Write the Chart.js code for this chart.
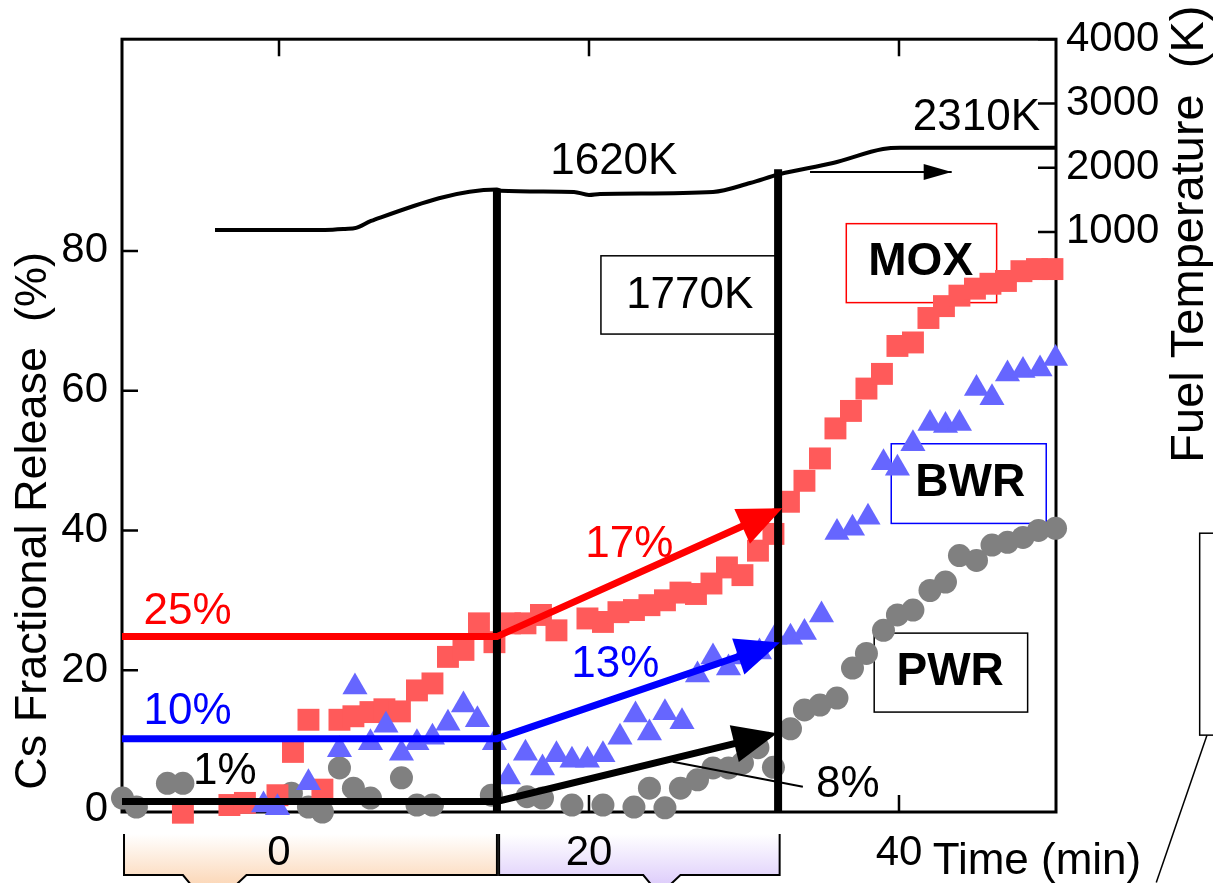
<!DOCTYPE html>
<html>
<head>
<meta charset="utf-8">
<script src="https://cdn.jsdelivr.net/npm/chart.js@4.4.1/dist/chart.umd.min.js"></script>
<style>
  body { margin: 0; background: #fff; }
  #wrap { width: 1213px; height: 883px; }
</style>
</head>
<body>
<div id="wrap"><canvas id="release" width="1213" height="883"></canvas></div>
<script>
  // fonts
  const FONT = "'Liberation Sans', Arial, Helvetica, sans-serif";

  // MOX (red squares): time (min) and Cs release (%)
  let moxTime = [-6.2, -3.2, -2.2, -0.1, 0.9, 1.9, 2.8, 3.9, 4.8, 5.9, 6.8, 7.8, 8.9, 9.9, 10.9, 11.9, 12.9, 13.9,
    14.9, 15.9, 16.9, 17.9, 19.9, 20.9, 21.9, 22.9, 23.9, 24.9, 25.9, 26.9, 27.9, 28.9, 29.9, 30.9, 31.9,
    32.9, 33.9, 34.9, 35.9, 36.9, 37.9, 38.9, 39.9, 40.9, 41.9, 42.9, 43.9, 44.9, 45.9, 46.9, 47.9, 48.9, 49.9];
  let moxRelease = [-0.4, 0.7, 1.0, 2.1, 8.3, 12.9, 2.9, 12.9, 13.4, 14.0, 14.4, 14.1, 17.1, 18.1, 21.9, 22.9, 26.7, 24.0,
    26.7, 26.7, 27.9, 25.7, 27.4, 26.9, 28.3, 28.6, 29.3, 30.0, 31.1, 30.9, 32.4, 34.7, 33.6, 37.1, 39.5,
    44.1, 47.1, 50.3, 54.6, 57.1, 60.3, 62.4, 66.4, 66.9, 70.4, 72.1, 73.6, 74.6, 75.3, 75.7, 77.1, 77.4, 77.4];

  // BWR (blue triangles)
  let bwrTime = [-1.0, -0.1, 1.9, 3.9, 4.9, 5.9, 6.9, 7.9, 8.9, 9.9, 10.9, 11.9, 12.8, 13.9,
    14.8, 15.9, 17.0, 17.9, 18.9, 19.9, 20.9, 22.0, 23.0, 23.9, 24.9, 26.0, 27.0, 28.0, 29.0, 29.9, 31.0, 32.0, 33.0,
    33.9, 35.0, 36.0, 37.0, 38.0, 39.0, 39.9, 40.9, 42.0, 43.0, 43.9, 45.0, 46.0, 47.0, 48.0, 49.1, 50.1];
  let bwrRelease = [0.7, 0.3, 3.9, 8.6, 17.6, 9.6, 12.1, 8.1, 9.6, 10.4, 12.4, 15.0, 12.9, 9.6,
    4.7, 8.1, 6.0, 7.9, 7.1, 7.1, 7.9, 10.4, 13.6, 11.0, 13.9, 12.6, 19.3, 21.9, 20.3, 21.9, 22.6, 24.7, 24.7,
    25.4, 27.9, 39.7, 40.3, 41.9, 49.7, 48.9, 52.4, 55.3, 55.0, 55.3, 60.3, 59.0, 62.4, 62.9, 63.1, 64.6];

  // PWR (grey circles)
  let pwrTime = [-10.1, -9.2, -7.2, -6.2, 0.8, 1.9, 2.8, 3.9, 4.8, 5.9, 7.9, 8.9, 9.9, 13.7,
    16.0, 17.0, 18.9, 20.9, 22.9, 23.9, 24.9, 25.9, 27.0, 28.0, 29.0, 29.9, 30.9, 31.9,
    33.0, 33.9, 34.9, 36.0, 37.0, 37.9, 39.0, 39.9, 40.9, 42.0, 43.0, 43.9, 45.0, 46.0, 47.0, 48.0, 49.0, 50.1];
  let pwrRelease = [1.7, 0.4, 3.8, 3.8, 2.4, 0.4, -0.3, 6.0, 3.1, 1.7, 4.6, 0.7, 0.7, 2.1,
    1.9, 1.7, 0.7, 0.7, 0.4, 3.1, 0.3, 3.1, 4.3, 6.0, 6.0, 6.7, 8.9, 6.1,
    11.6, 14.3, 15.0, 16.0, 20.3, 22.4, 25.7, 27.9, 28.6, 31.4, 32.6, 36.4, 35.7, 37.9, 38.3, 39.0, 40.0, 40.3];

  // fuel temperature (K)
  let tempTime = [-4.13, 2.97, 4.26, 4.97, 5.94, 14.06, 14.3, 19.03, 20.0, 20.71, 28.0, 30.39, 32.32, 35.74, 38.97, 40.06, 50.13];
  let tempK = [1031, 1031, 1046, 1062, 1171, 1660, 1640, 1622, 1575, 1591, 1622, 1761, 1901, 2072, 2290, 2310, 2310];

  // heating steps (min) and where the step line meets the temperature curve (%)
  let stepTime = [14.06, 32.2];
  let stepTop = [88.9, 91.7];

  // level before the step, then rise to the end of the next step
  let trendTime = [-10.13, 14.06];
  let moxTrend = [24.8, 24.8, 42.7];
  let bwrTrend = [10.2, 10.2, 23.6];
  let pwrTrend = [1.2, 1.2, 10.7];
  let trendEnd = [32.0, 31.83, 31.63];

  // axis ticks
  let timeTicks = [0, 20, 40];
  let releaseTicks = [0, 20, 40, 60, 80];
  let tempTicks = [1000, 2000, 3000, 4000];

  const pts = (xs, ys) => xs.map((x, i) => ({ x: x, y: ys[i] }));

  function trend(vals, end) {
    return [{ x: trendTime[0], y: vals[0] }, { x: trendTime[1], y: vals[1] }, { x: end, y: vals[2] }];
  }

  // text notes: time, release (%)
  let notes = [
    { text: '25%', t: -5.9, v: 28.4, color: '#ff0000' },
    { text: '10%', t: -5.9, v: 14.0, color: '#0000ff' },
    { text: '1%', t: -3.5, v: 5.4, color: '#000' },
    { text: '17%', t: 22.6, v: 37.9, color: '#ff0000' },
    { text: '13%', t: 21.7, v: 20.7, color: '#0000ff' },
    { text: '8%', t: 36.7, v: 3.6, color: '#000' },
    { text: '1620K', t: 21.6, v: 92.7, color: '#000' },
    { text: '2310K', t: 45.0, v: 99.0, color: '#000' },
    { text: '1770K', t: 26.5, v: 73.6, color: '#000' },
    { text: 'MOX', t: 41.4, v: 78.4, color: '#000', bold: true },
    { text: 'BWR', t: 44.6, v: 46.7, color: '#000', bold: true },
    { text: 'PWR', t: 43.3, v: 19.7, color: '#000', bold: true },
    { text: 'Time (min)', t: 48.9, v: -7.5, color: '#000' }
  ];

  let frames = [
    { t0: 20.77, t1: 32.2, v0: 79.3, v1: 68.1, color: '#000' },
    { t0: 36.6, t1: 46.3, v0: 83.9, v1: 72.6, color: '#ff0000' },
    { t0: 39.5, t1: 49.5, v0: 52.4, v1: 41.0, color: '#0000ff' },
    { t0: 38.4, t1: 48.3, v0: 25.3, v1: 14.0, color: '#000' },
    { t0: 59.4, t1: 64.0, v0: 39.6, v1: 10.7, color: '#000' }
  ];

  function tab(ctx, chart, t0, t1, p0, p1, color) {
    const x = chart.scales.x, b = chart.chartArea.bottom;
    const l = x.getPixelForValue(t0), r = x.getPixelForValue(t1);
    const a0 = x.getPixelForValue(p0), a1 = x.getPixelForValue(p1);
    const top = b + 22, bot = b + 63, end = b + 80;
    const g = ctx.createLinearGradient(0, top, 0, end);
    g.addColorStop(0, '#ffffff');
    g.addColorStop(1, color);
    ctx.beginPath();
    ctx.moveTo(l, top); ctx.lineTo(r, top); ctx.lineTo(r, bot);
    ctx.lineTo(a1, bot); ctx.lineTo(a1 - 18, end); ctx.lineTo(a0 + 14, end);
    ctx.lineTo(a0, bot); ctx.lineTo(l, bot); ctx.closePath();
    ctx.fillStyle = g; ctx.fill();
    ctx.beginPath();
    ctx.moveTo(l, top); ctx.lineTo(l, bot); ctx.lineTo(a0, bot); ctx.lineTo(a0 + 14, end);
    ctx.moveTo(a1 - 18, end); ctx.lineTo(a1, bot); ctx.lineTo(r, bot); ctx.lineTo(r, top);
    ctx.strokeStyle = '#000'; ctx.lineWidth = 2; ctx.stroke();
  }

  const decor = {
    id: 'decor',
    beforeDraw(chart) {
      const ctx = chart.ctx;
      ctx.save();
      tab(ctx, chart, -10.0, 14.06, -6.2, -2.1, '#fbd2ae');
      tab(ctx, chart, 14.2, 32.3, 23.5, 25.9, '#d9c6fa');
      ctx.restore();
    },
    beforeDatasetsDraw(chart) {
      const { ctx, chartArea: a, scales } = chart;
      ctx.save();
      ctx.strokeStyle = '#000';
      ctx.lineWidth = 3;
      ctx.strokeRect(a.left, a.top, a.right - a.left, a.bottom - a.top);
      ctx.lineWidth = 2.5;
      ctx.beginPath();
      scales.x.ticks.forEach(t => {
        const p = scales.x.getPixelForValue(t.value);
        ctx.moveTo(p, a.bottom); ctx.lineTo(p, a.bottom - 17);
        ctx.moveTo(p, a.top); ctx.lineTo(p, a.top + 17);
      });
      scales.y.ticks.forEach(t => {
        const p = scales.y.getPixelForValue(t.value);
        ctx.moveTo(a.left, p); ctx.lineTo(a.left + 16, p);
      });
      scales.yT.ticks.forEach(t => {
        const p = scales.yT.getPixelForValue(t.value);
        ctx.moveTo(a.right, p); ctx.lineTo(a.right - 18, p);
      });
      ctx.stroke();
      // label boxes
      ctx.lineWidth = 1.5;
      frames.forEach(f => {
        const x0 = scales.x.getPixelForValue(f.t0), x1 = scales.x.getPixelForValue(f.t1);
        const y0 = scales.y.getPixelForValue(f.v0), y1 = scales.y.getPixelForValue(f.v1);
        ctx.strokeStyle = f.color;
        ctx.strokeRect(x0, y0, x1 - x0, y1 - y0);
      });
      // lead line from the box at the right edge
      ctx.strokeStyle = '#000';
      ctx.beginPath();
      ctx.moveTo(scales.x.getPixelForValue(59.87), scales.y.getPixelForValue(10.7));
      ctx.lineTo(scales.x.getPixelForValue(56.6), scales.y.getPixelForValue(-10.4));
      ctx.stroke();
      ctx.restore();
    },
    afterDatasetsDraw(chart) {
      const ctx = chart.ctx;
      chart.data.datasets.forEach((ds, i) => {
        if (!ds.arrow) return;
        const pts = chart.getDatasetMeta(i).data;
        const p0 = pts[pts.length - 2], p1 = pts[pts.length - 1];
        const ang = Math.atan2(p1.y - p0.y, p1.x - p0.x);
        ctx.save();
        ctx.translate(p1.x, p1.y);
        ctx.rotate(ang);
        ctx.beginPath();
        ctx.moveTo(ds.arrow.ahead, 0);
        ctx.lineTo(ds.arrow.ahead - ds.arrow.len, -ds.arrow.half);
        ctx.lineTo(ds.arrow.ahead - ds.arrow.len, ds.arrow.half);
        ctx.closePath();
        ctx.fillStyle = ds.borderColor;
        ctx.fill();
        ctx.restore();
      });
    },
    afterDraw(chart) {
      const { ctx, scales, chartArea: a } = chart;
      ctx.save();
      ctx.textAlign = 'center';
      ctx.textBaseline = 'middle';
      notes.forEach(n => {
        ctx.font = (n.bold ? 'bold 46px ' : '44px ') + FONT;
        ctx.fillStyle = n.color;
        ctx.fillText(n.text, scales.x.getPixelForValue(n.t), scales.y.getPixelForValue(n.v));
      });
      ctx.fillStyle = '#000';
      ctx.textAlign = 'left';
      // axis titles, read bottom to top
      ctx.font = '45px ' + FONT;
      ctx.save();
      ctx.translate(a.left - 88, scales.y.getPixelForValue(2.9));
      ctx.rotate(-Math.PI / 2);
      ctx.fillText('Cs Fractional Release  (%)', 0, 0);
      ctx.restore();
      ctx.font = '47px ' + FONT;
      ctx.save();
      ctx.translate(a.right + 134, scales.y.getPixelForValue(49.7));
      ctx.rotate(-Math.PI / 2);
      ctx.fillText('Fuel Temperature  (K)', 0, 0);
      ctx.restore();
      ctx.restore();
    }
  };

  const lineStyle = { showLine: true, pointRadius: 0, pointHoverRadius: 0, tension: 0, fill: false };

  let datasets = [
    { label: 'PWR', data: pts(pwrTime, pwrRelease), pointStyle: 'circle', pointRadius: 11.5,
      backgroundColor: '#808080', borderColor: '#808080', borderWidth: 0, clip: false, order: 6 },
    { label: 'MOX', data: pts(moxTime, moxRelease), pointStyle: 'rect', pointRadius: 15.5,
      backgroundColor: '#ff5a5a', borderColor: '#ff5a5a', borderWidth: 0, clip: false, order: 5 },
    { label: 'BWR', data: pts(bwrTime, bwrRelease), pointStyle: 'triangle', pointRadius: 14.5,
      backgroundColor: '#6666ff', borderColor: '#6666ff', borderWidth: 0, clip: false, order: 4 },
    Object.assign({ label: 'Fuel temperature', data: pts(tempTime, tempK), yAxisID: 'yT',
      borderColor: '#000', borderWidth: 4, cubicInterpolationMode: 'monotone', order: 3 }, lineStyle, { tension: 0.4 }),
    Object.assign({ label: 'step 1', data: [{ x: stepTime[0], y: -0.3 }, { x: stepTime[0], y: stepTop[0] }],
      borderColor: '#000', borderWidth: 8, order: 2 }, lineStyle),
    Object.assign({ label: 'step 2', data: [{ x: stepTime[1], y: -0.3 }, { x: stepTime[1], y: stepTop[1] }],
      borderColor: '#000', borderWidth: 8, order: 2 }, lineStyle),
    Object.assign({ label: 'MOX trend', data: trend(moxTrend, trendEnd[0]), borderColor: '#ff0000', borderWidth: 7,
      order: 1, arrow: { len: 44, half: 19, ahead: 8 } }, lineStyle),
    Object.assign({ label: 'BWR trend', data: trend(bwrTrend, trendEnd[1]), borderColor: '#0000ff', borderWidth: 7,
      order: 1, arrow: { len: 44, half: 19, ahead: 8 } }, lineStyle),
    Object.assign({ label: 'PWR trend', data: trend(pwrTrend, trendEnd[2]), borderColor: '#000', borderWidth: 7,
      order: 1, arrow: { len: 44, half: 19, ahead: 8 } }, lineStyle),
    Object.assign({ label: '8% lead', data: [{ x: 25.4, y: 6.9 }, { x: 33.8, y: 3.3 }], borderColor: '#000',
      borderWidth: 2, order: 1 }, lineStyle),
    Object.assign({ label: 'temp arrow', data: [{ x: 34.26, y: 1933 }, { x: 43.4, y: 1933 }], yAxisID: 'yT',
      borderColor: '#000', borderWidth: 2, order: 1, arrow: { len: 28, half: 8, ahead: 0 } }, lineStyle)
  ];

  function fixTicks(list) {
    return scale => { scale.ticks = list.map(v => ({ value: v })); };
  }

  const tickFont = { family: FONT, size: 42 };
  const plain = v => String(v);

  new Chart(document.getElementById('release'), {
    type: 'scatter',
    data: { datasets: datasets },
    plugins: [decor],
    options: {
      responsive: false,
      animation: false,
      events: [],
      layout: { padding: 0 },
      plugins: { legend: { display: false }, tooltip: { enabled: false } },
      scales: {
        x: {
          type: 'linear', position: 'bottom', min: -10.13, max: 50.13,
          afterBuildTicks: fixTicks(timeTicks),
          afterFit: s => { s.height = 71; },
          grid: { display: false, drawTicks: false }, border: { display: false },
          ticks: { font: tickFont, color: '#000', padding: 16, maxRotation: 0, autoSkip: false, callback: plain }
        },
        xTop: {
          type: 'linear', position: 'top', min: -10.13, max: 50.13,
          afterBuildTicks: fixTicks(timeTicks),
          afterFit: s => { s.height = 38; },
          grid: { display: false, drawTicks: false }, border: { display: false },
          ticks: { display: false }
        },
        y: {
          type: 'linear', position: 'left', min: -0.3, max: 110.3,
          afterBuildTicks: fixTicks(releaseTicks),
          afterFit: s => { s.width = 122; },
          grid: { display: false, drawTicks: false }, border: { display: false },
          ticks: { font: tickFont, color: '#000', padding: 14, callback: plain }
        },
        yT: {
          type: 'linear', position: 'right', min: -8031, max: 4000,
          afterBuildTicks: fixTicks(tempTicks),
          afterFit: s => { s.width = 157; },
          grid: { display: false, drawTicks: false }, border: { display: false },
          ticks: { font: tickFont, color: '#000', padding: 10, callback: plain }
        }
      }
    }
  });
</script>
</body>
</html>
